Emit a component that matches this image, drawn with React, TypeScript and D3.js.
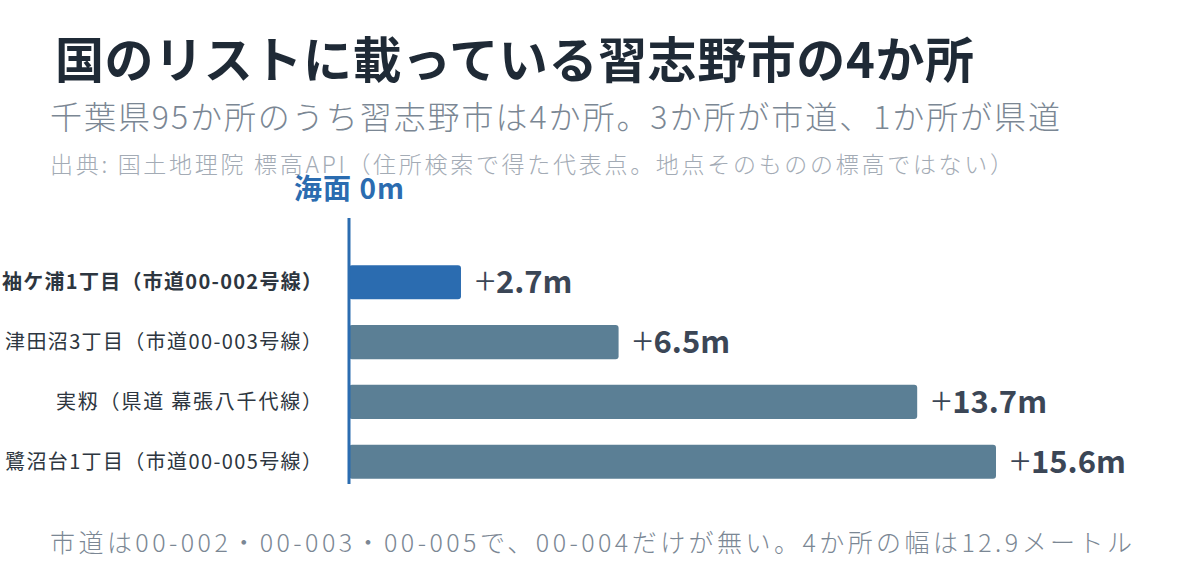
import React from "react";
import * as d3 from "d3";

const categories = [
  "袖ケ浦1丁目（市道00-002号線）",
  "津田沼3丁目（市道00-003号線）",
  "実籾（県道 幕張八千代線）",
  "鷺沼台1丁目（市道00-005号線）",
];
const elevations = [2.7, 6.5, 13.7, 15.6];
const highlighted = [true, false, false, false];

const title = "国のリストに載っている習志野市の4か所";
const subtitle = "千葉県95か所のうち習志野市は4か所。3か所が市道、1か所が県道";
const source = "出典: 国土地理院 標高API（住所検索で得た代表点。地点そのものの標高ではない）";
const footer = "市道は00-002・00-003・00-005で、00-004だけが無い。4か所の幅は12.9メートル";
const axisLabel = "海面 0m";

const W = 1200;
const H = 588;
const FONT = "'Noto Sans CJK JP', 'Noto Sans', sans-serif";
const labelWidths = [320, 317, 266, 317];

export default function App() {
  const x = d3.scaleLinear().domain([0, 15.6]).range([349, 996]);
  const y = d3
    .scaleBand<string>()
    .domain(categories)
    .range([252, 492])
    .paddingInner(0.43)
    .paddingOuter(0.22);

  return (
    <svg
      width={W}
      height={H}
      viewBox={`0 0 ${W} ${H}`}
      style={{ position: "absolute", left: 0, top: 0, background: "#fff" }}
      fontFamily={FONT}
    >
      <rect width={W} height={H} fill="#fff" />
      <text x={55} y={78} fontSize={49} fontWeight={700} fill="#1f2a36" textLength={919} lengthAdjust="spacing">
        {title}
      </text>
      <text x={50} y={129} fontSize={32} fontWeight={300} fill="#7b8794" textLength={1010} lengthAdjust="spacing">
        {subtitle}
      </text>
      <text x={50} y={173} fontSize={23} fontWeight={300} fill="#a3abb5" textLength={963} lengthAdjust="spacing">
        {source}
      </text>

      {categories.map((c, i) => {
        const v = elevations[i];
        const by = y(c)!;
        const bw = y.bandwidth();
        const base = by + bw / 2 + 11;
        return (
          <g key={c}>
            <rect
              x={x(0)}
              y={by}
              width={x(v) - x(0)}
              height={bw}
              rx={3}
              fill={highlighted[i] ? "#2b6cb0" : "#5b7f95"}
            />
            <text
              x={322}
              y={by + bw / 2}
              dy="0.35em"
              textAnchor="end"
              fontSize={20}
              fontWeight={highlighted[i] ? 700 : 400}
              fill="#2d3640"
              textLength={labelWidths[i]}
              lengthAdjust="spacing"
            >
              {c}
            </text>
            <text x={x(v) + 14} y={base + 2} fontSize={38} fontWeight={200} fill="#3b4656">
              +
            </text>
            <text x={x(v) + 35} y={base} fontSize={31} fontWeight={700} fill="#3b4656">
              {`${d3.format(".1f")(v)}m`}
            </text>
          </g>
        );
      })}

      <line x1={x(0)} x2={x(0)} y1={218} y2={484} stroke="#2b6cb0" strokeWidth={3} />
      <text
        x={x(0) - 55}
        y={199}
        fontSize={28}
        fontWeight={700}
        fill="#2b6cb0"
        textLength={110}
        lengthAdjust="spacing"
      >
        {axisLabel}
      </text>

      <text x={50} y={552} fontSize={25} fontWeight={300} fill="#7b8794" textLength={1082} lengthAdjust="spacing">
        {footer}
      </text>
    </svg>
  );
}
